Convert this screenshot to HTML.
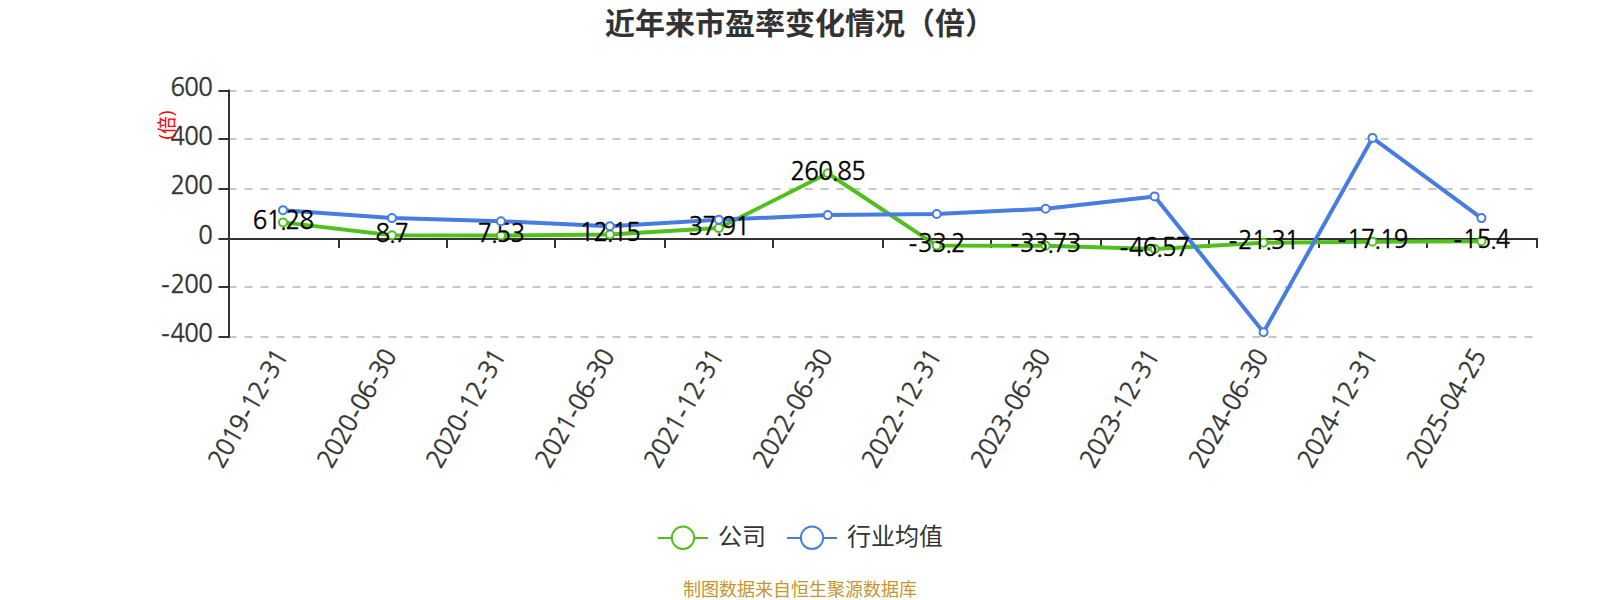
<!DOCTYPE html>
<html lang="zh-CN"><head><meta charset="utf-8"><title>近年来市盈率变化情况（倍）</title>
<style>html,body{margin:0;padding:0;background:#fff}body{width:1600px;height:600px;overflow:hidden}svg{display:block}text{font-family:"Liberation Sans","Noto Sans CJK SC",sans-serif}.n{font-family:"NanumGothic","Liberation Sans",sans-serif;letter-spacing:-0.73px;stroke-width:0.4px}</style></head><body>
<svg width="1600" height="600" viewBox="0 0 1600 600">
<rect width="1600" height="600" fill="#fff"/>
<text x="800" y="33.5" font-size="30" font-weight="bold" fill="#333" text-anchor="middle">近年来市盈率变化情况（倍）</text>
<line x1="228.6" y1="91" x2="1537" y2="91" stroke="#c8c8c8" stroke-width="2" stroke-dasharray="8 8"/>
<line x1="228.6" y1="139" x2="1537" y2="139" stroke="#c8c8c8" stroke-width="2" stroke-dasharray="8 8"/>
<line x1="228.6" y1="189" x2="1537" y2="189" stroke="#c8c8c8" stroke-width="2" stroke-dasharray="8 8"/>
<line x1="228.6" y1="287" x2="1537" y2="287" stroke="#c8c8c8" stroke-width="2" stroke-dasharray="8 8"/>
<line x1="228.6" y1="337" x2="1537" y2="337" stroke="#c8c8c8" stroke-width="2" stroke-dasharray="8 8"/>
<line x1="229" y1="89.5" x2="229" y2="338" stroke="#333" stroke-width="2"/>
<line x1="218.5" y1="91" x2="229" y2="91" stroke="#333" stroke-width="2"/>
<line x1="218.5" y1="139" x2="229" y2="139" stroke="#333" stroke-width="2"/>
<line x1="218.5" y1="189" x2="229" y2="189" stroke="#333" stroke-width="2"/>
<line x1="218.5" y1="239" x2="229" y2="239" stroke="#333" stroke-width="2"/>
<line x1="218.5" y1="287" x2="229" y2="287" stroke="#333" stroke-width="2"/>
<line x1="218.5" y1="337" x2="229" y2="337" stroke="#333" stroke-width="2"/>
<line x1="228" y1="239" x2="1538" y2="239" stroke="#333" stroke-width="2"/>
<line x1="229" y1="239" x2="229" y2="248" stroke="#333" stroke-width="2"/>
<line x1="339" y1="239" x2="339" y2="248" stroke="#333" stroke-width="2"/>
<line x1="447" y1="239" x2="447" y2="248" stroke="#333" stroke-width="2"/>
<line x1="555" y1="239" x2="555" y2="248" stroke="#333" stroke-width="2"/>
<line x1="665" y1="239" x2="665" y2="248" stroke="#333" stroke-width="2"/>
<line x1="773" y1="239" x2="773" y2="248" stroke="#333" stroke-width="2"/>
<line x1="883" y1="239" x2="883" y2="248" stroke="#333" stroke-width="2"/>
<line x1="991" y1="239" x2="991" y2="248" stroke="#333" stroke-width="2"/>
<line x1="1101" y1="239" x2="1101" y2="248" stroke="#333" stroke-width="2"/>
<line x1="1209" y1="239" x2="1209" y2="248" stroke="#333" stroke-width="2"/>
<line x1="1319" y1="239" x2="1319" y2="248" stroke="#333" stroke-width="2"/>
<line x1="1427" y1="239" x2="1427" y2="248" stroke="#333" stroke-width="2"/>
<line x1="1537" y1="239" x2="1537" y2="248" stroke="#333" stroke-width="2"/>
<text class="n" transform="translate(212,96) scale(0.96,1)" font-size="25" fill="#333" stroke="#333" text-anchor="end">600</text>
<text class="n" transform="translate(212,145.2) scale(0.96,1)" font-size="25" fill="#333" stroke="#333" text-anchor="end">400</text>
<text class="n" transform="translate(212,194.4) scale(0.96,1)" font-size="25" fill="#333" stroke="#333" text-anchor="end">200</text>
<text class="n" transform="translate(212,243.6) scale(0.96,1)" font-size="25" fill="#333" stroke="#333" text-anchor="end">0</text>
<text class="n" transform="translate(212,292.8) scale(0.96,1)" font-size="25" fill="#333" stroke="#333" text-anchor="end" dx="0 1.5 0 0" dy="3 -3 0 0">-200</text>
<text class="n" transform="translate(212,342) scale(0.96,1)" font-size="25" fill="#333" stroke="#333" text-anchor="end" dx="0 1.5 0 0" dy="3 -3 0 0">-400</text>
<text transform="translate(167,125) rotate(-90) scale(0.94,1)" font-size="19" fill="#f00" text-anchor="middle" y="7" dy="-2.3 2.3 -2.3">(倍)</text>
<text class="n" transform="translate(284,353.4) rotate(-60) scale(0.96,1)" font-size="25" fill="#333" stroke="#333" text-anchor="end" y="5" dx="0 0 0 0 1.2 1.2 0 1.2 1.2 0" dy="0 0 0 0 3 -3 0 3 -3 0">2019-12-31</text>
<text class="n" transform="translate(392.95,353.4) rotate(-60) scale(0.96,1)" font-size="25" fill="#333" stroke="#333" text-anchor="end" y="5" dx="0 0 0 0 1.2 1.2 0 1.2 1.2 0" dy="0 0 0 0 3 -3 0 3 -3 0">2020-06-30</text>
<text class="n" transform="translate(501.9,353.4) rotate(-60) scale(0.96,1)" font-size="25" fill="#333" stroke="#333" text-anchor="end" y="5" dx="0 0 0 0 1.2 1.2 0 1.2 1.2 0" dy="0 0 0 0 3 -3 0 3 -3 0">2020-12-31</text>
<text class="n" transform="translate(610.85,353.4) rotate(-60) scale(0.96,1)" font-size="25" fill="#333" stroke="#333" text-anchor="end" y="5" dx="0 0 0 0 1.2 1.2 0 1.2 1.2 0" dy="0 0 0 0 3 -3 0 3 -3 0">2021-06-30</text>
<text class="n" transform="translate(719.8,353.4) rotate(-60) scale(0.96,1)" font-size="25" fill="#333" stroke="#333" text-anchor="end" y="5" dx="0 0 0 0 1.2 1.2 0 1.2 1.2 0" dy="0 0 0 0 3 -3 0 3 -3 0">2021-12-31</text>
<text class="n" transform="translate(828.75,353.4) rotate(-60) scale(0.96,1)" font-size="25" fill="#333" stroke="#333" text-anchor="end" y="5" dx="0 0 0 0 1.2 1.2 0 1.2 1.2 0" dy="0 0 0 0 3 -3 0 3 -3 0">2022-06-30</text>
<text class="n" transform="translate(937.7,353.4) rotate(-60) scale(0.96,1)" font-size="25" fill="#333" stroke="#333" text-anchor="end" y="5" dx="0 0 0 0 1.2 1.2 0 1.2 1.2 0" dy="0 0 0 0 3 -3 0 3 -3 0">2022-12-31</text>
<text class="n" transform="translate(1046.65,353.4) rotate(-60) scale(0.96,1)" font-size="25" fill="#333" stroke="#333" text-anchor="end" y="5" dx="0 0 0 0 1.2 1.2 0 1.2 1.2 0" dy="0 0 0 0 3 -3 0 3 -3 0">2023-06-30</text>
<text class="n" transform="translate(1155.6,353.4) rotate(-60) scale(0.96,1)" font-size="25" fill="#333" stroke="#333" text-anchor="end" y="5" dx="0 0 0 0 1.2 1.2 0 1.2 1.2 0" dy="0 0 0 0 3 -3 0 3 -3 0">2023-12-31</text>
<text class="n" transform="translate(1264.55,353.4) rotate(-60) scale(0.96,1)" font-size="25" fill="#333" stroke="#333" text-anchor="end" y="5" dx="0 0 0 0 1.2 1.2 0 1.2 1.2 0" dy="0 0 0 0 3 -3 0 3 -3 0">2024-06-30</text>
<text class="n" transform="translate(1373.5,353.4) rotate(-60) scale(0.96,1)" font-size="25" fill="#333" stroke="#333" text-anchor="end" y="5" dx="0 0 0 0 1.2 1.2 0 1.2 1.2 0" dy="0 0 0 0 3 -3 0 3 -3 0">2024-12-31</text>
<text class="n" transform="translate(1482.45,353.4) rotate(-60) scale(0.96,1)" font-size="25" fill="#333" stroke="#333" text-anchor="end" y="5" dx="0 0 0 0 1.2 1.2 0 1.2 1.2 0" dy="0 0 0 0 3 -3 0 3 -3 0">2025-04-25</text>
<polyline points="283,222.38 391.95,235.31 500.9,235.60 609.85,234.46 718.8,228.12 827.75,173.28 936.7,245.62 1045.65,245.75 1154.6,248.91 1263.55,242.69 1372.5,241.68 1481.45,241.24" fill="none" stroke="#50c01c" stroke-width="4" stroke-linejoin="bevel"/>
<polyline points="283,210.15 391.95,218.10 500.9,221.25 609.85,226.25 718.8,219.75 827.75,215.10 936.7,214.00 1045.65,208.75 1154.6,196.40 1263.55,332.25 1372.5,137.90 1481.45,218.10" fill="none" stroke="#477de0" stroke-width="4" stroke-linejoin="bevel"/>
<circle cx="283" cy="222.38" r="4" fill="#fff" stroke="#50c01c" stroke-width="2"/>
<text class="n" transform="translate(283,228.98) scale(0.96,1)" font-size="25" fill="#000" stroke="#000" text-anchor="middle" dx="0 0 -0.7 -0.7 0">61.28</text>
<circle cx="391.95" cy="235.31" r="4" fill="#fff" stroke="#50c01c" stroke-width="2"/>
<text class="n" transform="translate(391.95,241.91) scale(0.96,1)" font-size="25" fill="#000" stroke="#000" text-anchor="middle" dx="0 -0.7 -0.7">8.7</text>
<circle cx="500.9" cy="235.60" r="4" fill="#fff" stroke="#50c01c" stroke-width="2"/>
<text class="n" transform="translate(500.9,242.20) scale(0.96,1)" font-size="25" fill="#000" stroke="#000" text-anchor="middle" dx="0 -0.7 -0.7 0">7.53</text>
<circle cx="609.85" cy="234.46" r="4" fill="#fff" stroke="#50c01c" stroke-width="2"/>
<text class="n" transform="translate(609.85,241.06) scale(0.96,1)" font-size="25" fill="#000" stroke="#000" text-anchor="middle" dx="0 0 -0.7 -0.7 0">12.15</text>
<circle cx="718.8" cy="228.12" r="4" fill="#fff" stroke="#50c01c" stroke-width="2"/>
<text class="n" transform="translate(718.8,234.72) scale(0.96,1)" font-size="25" fill="#000" stroke="#000" text-anchor="middle" dx="0 0 -0.7 -0.7 0">37.91</text>
<circle cx="827.75" cy="173.28" r="4" fill="#fff" stroke="#50c01c" stroke-width="2"/>
<text class="n" transform="translate(827.75,179.88) scale(0.96,1)" font-size="25" fill="#000" stroke="#000" text-anchor="middle" dx="0 0 0 -0.7 -0.7 0">260.85</text>
<circle cx="936.7" cy="245.62" r="4" fill="#fff" stroke="#50c01c" stroke-width="2"/>
<text class="n" transform="translate(936.7,252.22) scale(0.96,1)" font-size="25" fill="#000" stroke="#000" text-anchor="middle" dx="0 1.5 0 -0.7 -0.7" dy="3 -3 0 0 0">-33.2</text>
<circle cx="1045.65" cy="245.75" r="4" fill="#fff" stroke="#50c01c" stroke-width="2"/>
<text class="n" transform="translate(1045.65,252.35) scale(0.96,1)" font-size="25" fill="#000" stroke="#000" text-anchor="middle" dx="0 1.5 0 -0.7 -0.7 0" dy="3 -3 0 0 0 0">-33.73</text>
<circle cx="1154.6" cy="248.91" r="4" fill="#fff" stroke="#50c01c" stroke-width="2"/>
<text class="n" transform="translate(1154.6,255.51) scale(0.96,1)" font-size="25" fill="#000" stroke="#000" text-anchor="middle" dx="0 1.5 0 -0.7 -0.7 0" dy="3 -3 0 0 0 0">-46.57</text>
<circle cx="1263.55" cy="242.69" r="4" fill="#fff" stroke="#50c01c" stroke-width="2"/>
<text class="n" transform="translate(1263.55,249.29) scale(0.96,1)" font-size="25" fill="#000" stroke="#000" text-anchor="middle" dx="0 1.5 0 -0.7 -0.7 0" dy="3 -3 0 0 0 0">-21.31</text>
<circle cx="1372.5" cy="241.68" r="4" fill="#fff" stroke="#50c01c" stroke-width="2"/>
<text class="n" transform="translate(1372.5,248.28) scale(0.96,1)" font-size="25" fill="#000" stroke="#000" text-anchor="middle" dx="0 1.5 0 -0.7 -0.7 0" dy="3 -3 0 0 0 0">-17.19</text>
<circle cx="1481.45" cy="241.24" r="4" fill="#fff" stroke="#50c01c" stroke-width="2"/>
<text class="n" transform="translate(1481.45,247.84) scale(0.96,1)" font-size="25" fill="#000" stroke="#000" text-anchor="middle" dx="0 1.5 0 -0.7 -0.7" dy="3 -3 0 0 0">-15.4</text>
<circle cx="283" cy="210.15" r="4" fill="#fff" stroke="#477de0" stroke-width="2"/>
<circle cx="391.95" cy="218.10" r="4" fill="#fff" stroke="#477de0" stroke-width="2"/>
<circle cx="500.9" cy="221.25" r="4" fill="#fff" stroke="#477de0" stroke-width="2"/>
<circle cx="609.85" cy="226.25" r="4" fill="#fff" stroke="#477de0" stroke-width="2"/>
<circle cx="718.8" cy="219.75" r="4" fill="#fff" stroke="#477de0" stroke-width="2"/>
<circle cx="827.75" cy="215.10" r="4" fill="#fff" stroke="#477de0" stroke-width="2"/>
<circle cx="936.7" cy="214.00" r="4" fill="#fff" stroke="#477de0" stroke-width="2"/>
<circle cx="1045.65" cy="208.75" r="4" fill="#fff" stroke="#477de0" stroke-width="2"/>
<circle cx="1154.6" cy="196.40" r="4" fill="#fff" stroke="#477de0" stroke-width="2"/>
<circle cx="1263.55" cy="332.25" r="4" fill="#fff" stroke="#477de0" stroke-width="2"/>
<circle cx="1372.5" cy="137.90" r="4" fill="#fff" stroke="#477de0" stroke-width="2"/>
<circle cx="1481.45" cy="218.10" r="4" fill="#fff" stroke="#477de0" stroke-width="2"/>
<line x1="658" y1="538" x2="708" y2="538" stroke="#50c01c" stroke-width="2"/><circle cx="683" cy="537.8" r="11.2" fill="#fff" stroke="#50c01c" stroke-width="2"/><text x="718" y="545" font-size="24" fill="#333">公司</text>
<line x1="787" y1="538" x2="837" y2="538" stroke="#477de0" stroke-width="2"/><circle cx="812" cy="537.8" r="11.2" fill="#fff" stroke="#477de0" stroke-width="2"/><text x="847" y="545" font-size="24" fill="#333">行业均值</text>
<text x="800" y="595.5" font-size="18" fill="#c5952f" text-anchor="middle">制图数据来自恒生聚源数据库</text>
</svg></body></html>
